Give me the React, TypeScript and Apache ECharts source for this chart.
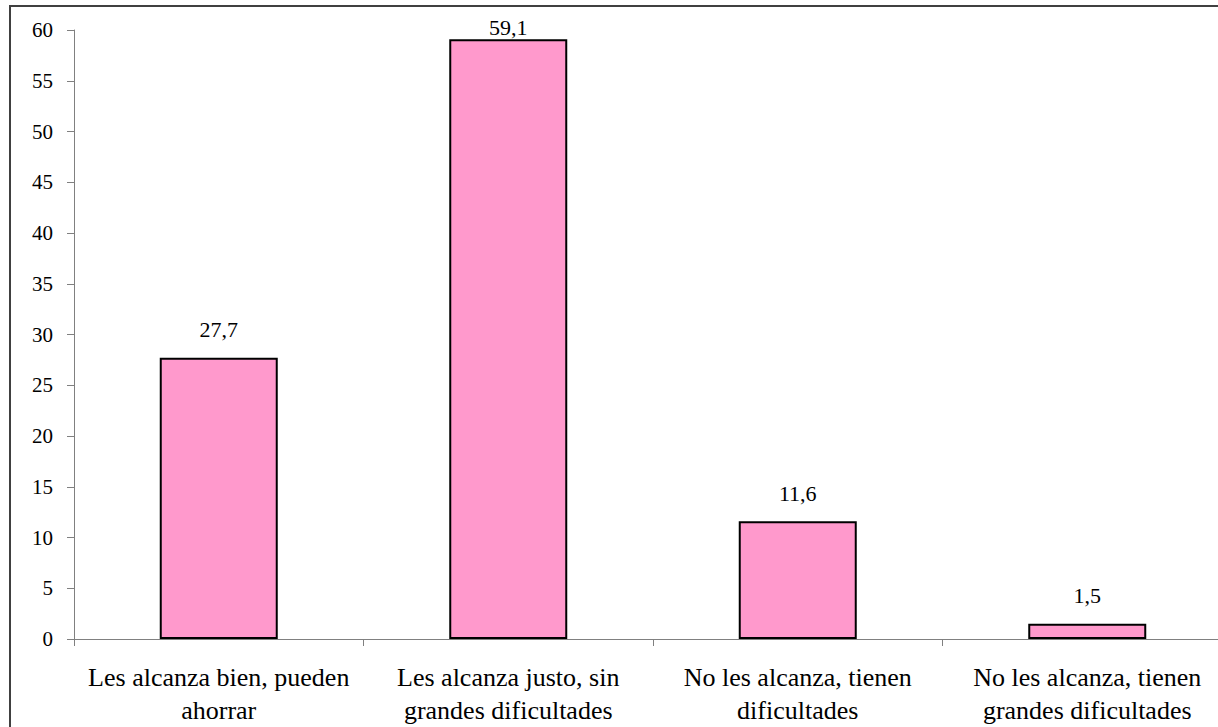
import React, { useEffect, useRef } from "react";
import * as echarts from "echarts";

const categories = [
  "Les alcanza bien, pueden\nahorrar",
  "Les alcanza justo, sin\ngrandes dificultades",
  "No les alcanza, tienen\ndificultades",
  "No les alcanza, tienen\ngrandes dificultades",
];
const values = [27.7, 59.1, 11.6, 1.5];
const yMin = 0;
const yMax = 60;
const yInterval = 5;

export default function App() {
  const ref = useRef<HTMLDivElement>(null);
  useEffect(() => {
    if (!ref.current) return;
    document.body.style.overflow = "hidden";
    const chart = echarts.init(ref.current, undefined, { renderer: "svg" });
    const font = "Times New Roman, Times, Liberation Serif, DejaVu Serif, serif";
    chart.setOption({
      animation: false,
      backgroundColor: "#ffffff",
      textStyle: { fontFamily: font },
      graphic: [
        {
          type: "rect",
          shape: { x: 10, y: 6, width: 1400, height: 900 },
          style: { fill: "none", stroke: "#404040", lineWidth: 2 },
          silent: true,
        },
      ],
      grid: { left: 74, top: 30, width: 1158, height: 610, containLabel: false },
      xAxis: {
        type: "category",
        data: categories,
        axisLine: { lineStyle: { color: "#808080", width: 1 } },
        axisTick: { show: true, alignWithLabel: false, length: 7, lineStyle: { color: "#808080" } },
        axisLabel: {
          interval: 0,
          margin: 22,
          fontFamily: font,
          fontSize: 26,
          lineHeight: 33,
          color: "#000",
        },
        splitLine: { show: false },
      },
      yAxis: {
        type: "value",
        min: yMin,
        max: yMax,
        interval: yInterval,
        axisLine: { show: true, lineStyle: { color: "#808080", width: 1 } },
        axisTick: { show: true, length: 7, lineStyle: { color: "#808080" } },
        axisLabel: { margin: 21, fontFamily: font, fontSize: 21, color: "#000" },
        splitLine: { show: false },
      },
      series: [
        {
          type: "bar",
          barWidth: 118,
          data: values.map((v, i) => ({
            value: v,
            label: i === 1 ? { distance: 1 } : undefined,
          })),
          itemStyle: { color: "#FF99CC", borderColor: "#000", borderWidth: 2 },
          label: {
            show: true,
            position: "top",
            distance: 17,
            fontFamily: font,
            fontSize: 22,
            color: "#000",
            formatter: (p: any) => String(p.value).replace(".", ","),
          },
        },
      ],
    });
    return () => chart.dispose();
  }, []);
  return (
    <div
      ref={ref}
      style={{ position: "fixed", left: 0, top: 0, width: 1240, height: 727 }}
    />
  );
}
